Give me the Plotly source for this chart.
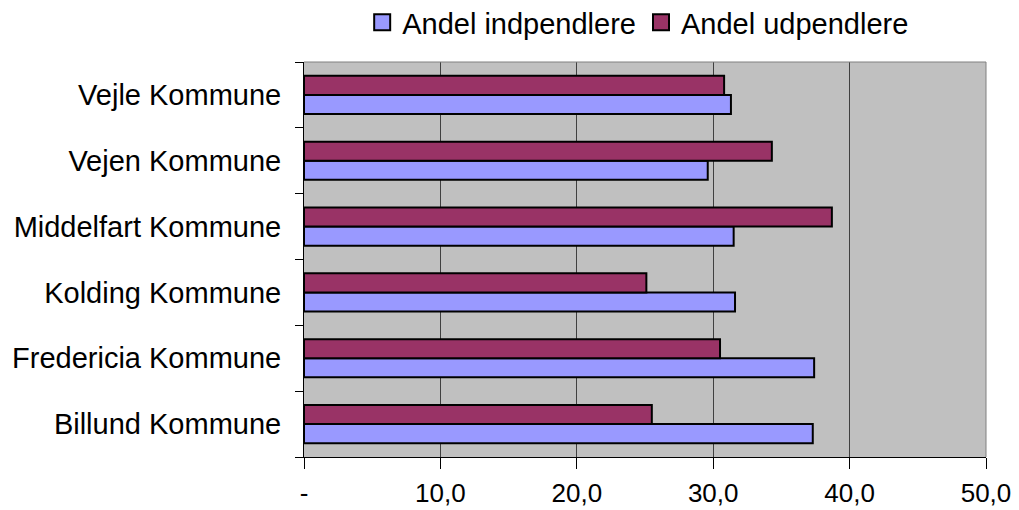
import plotly.graph_objects as go

categories = ["Billund Kommune", "Fredericia Kommune", "Kolding Kommune",
              "Middelfart Kommune", "Vejen Kommune", "Vejle Kommune"]
andel_indpendlere = [37.3, 37.4, 31.6, 31.5, 29.6, 31.3]
andel_udpendlere = [25.5, 30.5, 25.1, 38.7, 34.3, 30.8]
series_names = ["Andel indpendlere", "Andel udpendlere"]
series_colors = ["#9999FF", "#993366"]
tick_vals = [0, 10, 20, 30, 40, 50]
tick_text = ["-", "10,0", "20,0", "30,0", "40,0", "50,0"]

FONT = "Liberation Sans, Arial, sans-serif"

fig = go.Figure()
for vals, name, col in zip([andel_indpendlere, andel_udpendlere], series_names, series_colors):
    fig.add_trace(go.Bar(
        y=categories, x=vals, orientation="h",
        name=name, showlegend=False, legendgroup=name,
        marker=dict(color=col, line=dict(color="#000000", width=2)),
    ))
# legend entries with larger square symbols
for name, col in zip(series_names, series_colors):
    fig.add_trace(go.Scatter(
        x=[None], y=[None], mode="markers", name=name, legendgroup=name,
        marker=dict(symbol="square", size=20, color=col,
                    line=dict(color="#000000", width=2)),
    ))

# page body adds an 8px offset; figure is sized to compensate
fig.update_layout(
    width=1011, height=502,
    margin=dict(l=296, r=33, t=54, b=53, autoexpand=False),
    paper_bgcolor="white",
    plot_bgcolor="#C0C0C0",
    barmode="group",
    bargap=0.42,
    bargroupgap=0,
    font=dict(family=FONT, size=29, color="#000000"),
    legend=dict(
        orientation="h",
        x=0.49, xanchor="center",
        y=1.10, yanchor="middle",
        font=dict(family=FONT, size=29, color="#000000"),
        bgcolor="rgba(0,0,0,0)",
        itemsizing="trace",
        itemwidth=30,
        tracegroupgap=0,
    ),
    showlegend=True,
)

fig.update_xaxes(
    range=[0, 50], automargin=False,
    tickvals=tick_vals, ticktext=tick_text,
    showgrid=True, gridcolor="#404040", gridwidth=1,
    showline=True, linecolor="#000000", linewidth=1,
    ticks="outside", ticklen=11, tickcolor="#000000", tickwidth=1,
    ticklabelstandoff=2,
    zeroline=False,
    tickfont=dict(family=FONT, size=26, color="#000000"),
)
fig.update_yaxes(
    categoryorder="array", categoryarray=categories, automargin=False,
    showgrid=False,
    showline=True, linecolor="#000000", linewidth=1,
    ticks="outside", ticklen=8, tickcolor="#000000", tickwidth=1,
    tickson="boundaries",
    ticklabelstandoff=16,
    tickfont=dict(family=FONT, size=29, color="#000000"),
)

fig.add_shape(type="line", xref="paper", yref="paper", x0=0, x1=1, y0=1, y1=1,
              line=dict(color="#808080", width=1), layer="above")
fig.add_shape(type="line", xref="paper", yref="paper", x0=1, x1=1, y0=0, y1=1,
              line=dict(color="#808080", width=1), layer="above")

fig.write_html("out.html")
